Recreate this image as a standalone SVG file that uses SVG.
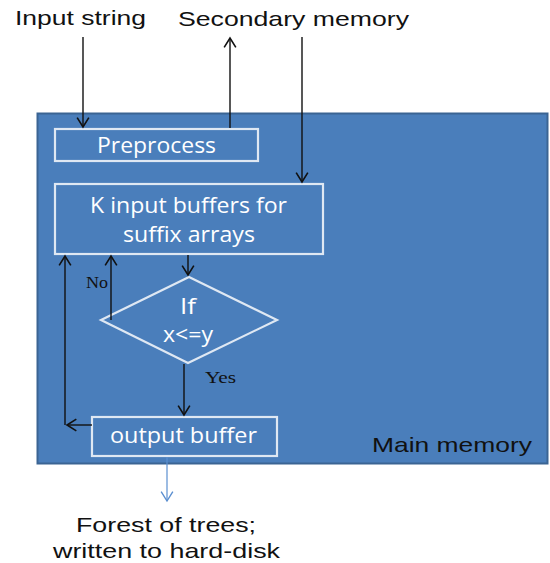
<svg xmlns="http://www.w3.org/2000/svg" width="550" height="563" viewBox="0 0 550 563">
<defs>
<marker id="ah" markerUnits="userSpaceOnUse" markerWidth="14" markerHeight="14" viewBox="-10 -6 12 12" refX="0" refY="0" orient="auto">
<path d="M-8,-5 L0,0 L-8,5" fill="none" stroke="#111" stroke-width="1.4"/>
</marker>
<marker id="ahb" markerUnits="userSpaceOnUse" markerWidth="14" markerHeight="14" viewBox="-10 -6 12 12" refX="0" refY="0" orient="auto">
<path d="M-8,-5 L0,0 L-8,5" fill="none" stroke="#5b8fd0" stroke-width="1.2"/>
</marker>
<style>
.out{font-family:"Liberation Sans",Arial,sans-serif;font-size:21px;fill:#111}
.box{fill:#4a7ebb;stroke:#dfe8f3;stroke-width:2.2}
.wt{font-family:"Open Sans","Noto Sans",sans-serif;font-size:21px;fill:#fff;text-anchor:start}
.lbl{font-family:"Liberation Serif","Times New Roman",serif;font-size:16px;fill:#111}
.conn{fill:none;stroke:#111;stroke-width:1.4;marker-end:url(#ah)}
</style>
</defs>
<rect width="550" height="563" fill="#fff"/>
<g id="main-memory">
<rect x="37.5" y="113.5" width="510" height="350" fill="#4a7ebb" stroke="#3b6493" stroke-width="2"/>
<text class="out" x="372" y="452" textLength="160" lengthAdjust="spacingAndGlyphs">Main memory</text>
</g>
<g id="input-string"><text class="out" x="15" y="25" textLength="131" lengthAdjust="spacingAndGlyphs">Input string</text></g>
<g id="secondary-memory"><text class="out" x="178" y="26" textLength="231" lengthAdjust="spacingAndGlyphs">Secondary memory</text></g>
<g id="preprocess">
<rect class="box" x="55" y="129" width="203" height="32"/>
<text class="wt" x="97" y="153" textLength="119" lengthAdjust="spacingAndGlyphs">Preprocess</text>
</g>
<g id="k-input-buffers">
<rect class="box" x="55" y="184" width="268" height="70"/>
<text class="wt" x="90" y="213" textLength="197" lengthAdjust="spacingAndGlyphs">K input buffers for</text>
<text class="wt" x="123" y="242" textLength="132" lengthAdjust="spacingAndGlyphs">suffix arrays</text>
</g>
<g id="decision">
<polygon class="box" points="189,277 277,320 188,363 101,320"/>
<text class="wt" x="180" y="314" textLength="16" lengthAdjust="spacingAndGlyphs">If</text>
<text class="wt" x="163" y="342" textLength="50" lengthAdjust="spacingAndGlyphs">x&lt;=y</text>
</g>
<g id="output-buffer">
<rect class="box" x="92" y="417" width="185" height="39"/>
<text class="wt" x="110" y="443" textLength="147" lengthAdjust="spacingAndGlyphs">output buffer</text>
</g>
<g id="forest">
<text class="out" x="76" y="532" textLength="180" lengthAdjust="spacingAndGlyphs">Forest of trees;</text>
<text class="out" x="53" y="558" textLength="227" lengthAdjust="spacingAndGlyphs">written to hard-disk</text>
</g>
<g id="connectors">
<path class="conn" d="M83,37 V127"/>
<path class="conn" d="M230,128 V38"/>
<path class="conn" d="M302,37 V182"/>
<path class="conn" d="M188,255 V275"/>
<path class="conn" d="M111,320 V256"/>
<path class="conn" d="M184,364 V415"/>
<path class="conn" d="M92,425 H67"/>
<path class="conn" d="M65,425 V256"/>
<path d="M167,457 V501" fill="none" stroke="#5b8fd0" stroke-width="1.2" marker-end="url(#ahb)"/>
<text class="lbl" x="86" y="288" textLength="22" lengthAdjust="spacingAndGlyphs">No</text>
<text class="lbl" x="205" y="383" textLength="31" lengthAdjust="spacingAndGlyphs">Yes</text>
</g>
</svg>
